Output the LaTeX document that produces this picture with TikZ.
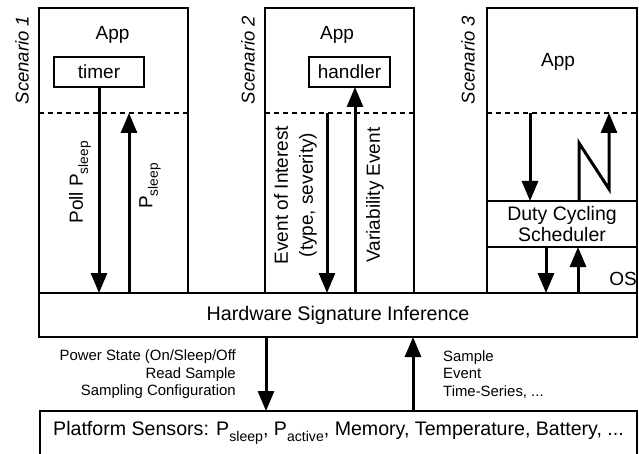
\documentclass[tikz,border=0pt]{standalone}
\usepackage{fontspec}
\setmainfont{Liberation Sans}
\usepackage{graphicx}
\usetikzlibrary{arrows.meta}
% lowered, smaller index text (P_sleep, P_active)
\newcommand{\lowidx}[1]{\raisebox{-0.28em}{\scalebox{0.72}{#1}}}
\begin{document}
\begin{tikzpicture}[x=1pt,y=-1pt,
  box/.style={draw, line width=1.1pt, inner sep=0pt, outer sep=0pt},
  txt/.style={font=\fontsize{19}{25}\selectfont, inner sep=0pt},
  scen/.style={font=\fontsize{18.5}{22}\selectfont\itshape, rotate=90, inner sep=0pt},
  small/.style={font=\fontsize{14.9}{17.5}\selectfont, inner sep=0pt},
  flow/.style={line width=3pt, -{Triangle[width=16pt,length=20pt]}},
  sep/.style={line width=1.1pt, dash pattern=on 5pt off 4pt}]
\useasboundingbox (0,0) rectangle (639,454);

% three scenario columns
\node[box, minimum width=149pt, minimum height=285pt, anchor=north west] (sc1) at (39,8) {};
\node[box, minimum width=149pt, minimum height=285pt, anchor=north west] (sc2) at (265,8) {};
\node[box, minimum width=150pt, minimum height=285pt, anchor=north west] (sc3) at (487,8) {};

% app / system boundary
\draw[sep] (39,113) -- (188,113);
\draw[sep] (265,113) -- (414,113);
\draw[sep] (487,113) -- (637,113);

% lower layers
\node[box, minimum width=598pt, minimum height=44pt, anchor=north west,
      font=\fontsize{19.7}{23}\selectfont] (hsi) at (39,293) {Hardware Signature Inference};
\node[box, minimum width=597pt, minimum height=44pt, anchor=north west,
      font=\fontsize{19.6}{23}\selectfont] (plat) at (40,411)
  {Platform Sensors: P\lowidx{sleep}, P\lowidx{active}, Memory, Temperature, Battery, ...};

% scenario titles
\node[scen] (scn1) at (22,60) {Scenario 1};
\node[scen] (scn2) at (248,60) {Scenario 2};
\node[scen] (scn3) at (468,60) {Scenario 3};

% column contents
\node[txt, anchor=base] (app1) at (112.5,40) {App};
\node[txt, anchor=base] (app2) at (337,40) {App};
\node[txt, anchor=base] (app3) at (558,67) {App};
\node[box, txt, minimum width=90pt, minimum height=30pt] (timer) at (99,72) {timer};
\node[box, txt, minimum width=81pt, minimum height=30pt] (handler) at (349.5,72) {handler};
\node[box, minimum width=150pt, minimum height=46pt, align=center,
      font=\fontsize{19.5}{21}\selectfont] (dcs) at (562,224) {Duty Cycling\\Scheduler};
\node[txt] (os) at (623,279) {OS};

% arrow labels
\node[txt, rotate=90] (poll) at (80,182.5) {Poll P\lowidx{sleep}};
\node[txt, rotate=90] (ps) at (150,186) {P\lowidx{sleep}};
\node[txt, rotate=90, align=center] (eoi) at (295.5,195) {Event of Interest\\(type, severity)};
\node[txt, rotate=90] (var) at (375,195) {Variability Event};
\node[small, align=right, anchor=east] (cmds) at (236,374.5)
  {Power State (On/Sleep/Off\\Read Sample\\Sampling Configuration};
\node[small, align=left, anchor=west] (data) at (443,374.5)
  {Sample\\Event\\Time-Series, ...};

% arrow positions
\coordinate (u1) at (129,113);
\coordinate (d2) at (327,113);
\coordinate (u2) at (355,0);
\coordinate (d3) at (530,113);
\coordinate (z1) at (579,143);
\coordinate (z2) at (609,189);
\coordinate (z3) at (609,113);
\coordinate (d4) at (546,0);
\coordinate (u4) at (578,0);
\coordinate (d5) at (266,0);
\coordinate (u5) at (413,0);

% scenario 1
\draw[flow] (timer.south) -- (timer.south |- hsi.north);
\draw[flow] (u1 |- hsi.north) -- (u1);
% scenario 2
\draw[flow] (d2) -- (d2 |- hsi.north);
\draw[flow] (u2 |- hsi.north) -- (u2 |- handler.south);
% scenario 3
\draw[flow] (d3) -- (d3 |- dcs.north);
\draw[flow] (z1 |- dcs.north) -- (z1) -- (z2) -- (z3);
\draw[flow] (d4 |- dcs.south) -- (d4 |- hsi.north);
\draw[flow] (u4 |- hsi.north) -- (u4 |- dcs.south);
% inference <-> sensors
\draw[flow] (d5 |- hsi.south) -- (d5 |- plat.north);
\draw[flow] (u5 |- plat.north) -- (u5 |- hsi.south);
\end{tikzpicture}
\end{document}
